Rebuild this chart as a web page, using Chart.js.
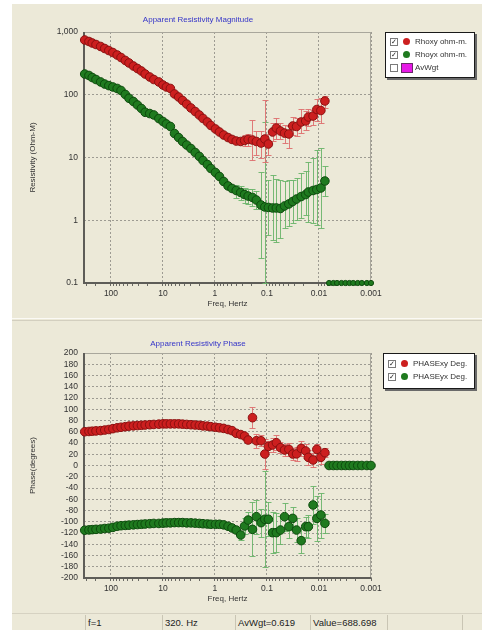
<!DOCTYPE html>
<html lang="en">
<head>
<meta charset="UTF-8">
<title>Apparent Resistivity</title>
<script src="https://cdn.jsdelivr.net/npm/chart.js"></script>
<style>
    body { margin: 0; background: #fff; font-family: "Liberation Sans", Arial, sans-serif; }
    #page { position: relative; width: 482px; height: 630px; overflow: hidden; }
    #panel { position: absolute; left: 12px; top: 4px; width: 470px; height: 626px; background: #ECE9D8; }
    canvas { position: absolute; left: 0; }
    #rhoChart { top: 0; }
    #phaseChart { top: 318px; }
    #split { position: absolute; left: 12px; top: 318px; width: 470px; height: 1px; border-top: 1px solid #fbfaf5; border-bottom: 1px solid #d3cfbf; }
    .legend { position: absolute; background: #fff; border: 1px solid #1a1a1a; box-shadow: 2px 2px 0 #6a6a6a; font-size: 8px; color: #333; }
    .row { position: absolute; left: 4px; width: 84px; height: 10px; white-space: nowrap; }
    .chk { position: absolute; left: 0; top: 0; width: 6px; height: 6px; border: 1px solid #7a7a7a; background: #fff; font: 7px/6px "DejaVu Sans", sans-serif; text-align: center; color: #222; }
    .dot { position: absolute; left: 13px; top: 0; width: 7px; height: 7px; border-radius: 50%; }
    .swatch { position: absolute; left: 11px; top: -1px; width: 10px; height: 8px; background: #e619e6; border: 1px solid #6a2a6a; }
    .txt { position: absolute; left: 25px; top: -1px; }
    #status { position: absolute; left: 12px; top: 613px; width: 470px; height: 17px; border-top: 1px solid #d6d2c2; background: #ECE9D8; font-size: 9.5px; color: #222; }
    #status span { position: absolute; top: 3px; }
    #status i { position: absolute; top: 1px; width: 1px; height: 15px; background: #c9c5b4; }
</style>
</head>
<body>
<div id="page">
    <div id="panel"></div>
    <canvas id="rhoChart" width="482" height="318"></canvas>
    <div id="split"></div>
    <canvas id="phaseChart" width="482" height="295"></canvas>

    <div class="legend" style="left:385px; top:32px; width:88px; height:44px;">
        <div class="row" style="top:5px;"><span class="chk">✓</span><span class="dot" style="background:#cc1f1f;"></span><span class="txt">Rhoxy ohm-m.</span></div>
        <div class="row" style="top:18px;"><span class="chk">✓</span><span class="dot" style="background:#1f7a1f;"></span><span class="txt">Rhoyx ohm-m.</span></div>
        <div class="row" style="top:31px;"><span class="chk"></span><span class="swatch"></span><span class="txt">AvWgt</span></div>
    </div>
    <div class="legend" style="left:383px; top:353px; width:90px; height:34px;">
        <div class="row" style="top:6px;"><span class="chk">✓</span><span class="dot" style="background:#cc1f1f;"></span><span class="txt">PHASExy Deg.</span></div>
        <div class="row" style="top:19px;"><span class="chk">✓</span><span class="dot" style="background:#1f7a1f;"></span><span class="txt">PHASEyx Deg.</span></div>
    </div>

    <div id="status">
        <i style="left:73px;"></i><i style="left:150px;"></i><i style="left:223px;"></i><i style="left:298px;"></i><i style="left:375px;"></i><i style="left:450px;"></i>
        <span style="left:76px;">f=1</span>
        <span style="left:153px;">320. Hz</span>
        <span style="left:226px;">AvWgt=0.619</span>
        <span style="left:301px;">Value=688.698</span>
    </div>
</div>

<script>
// frequencies, Hz
const freqs = [320, 265, 229, 194, 158, 132, 110, 92, 76, 64, 53, 45, 37, 31, 26, 22, 18, 15, 12, 10,
    8.6, 7.2, 6.0, 5.0, 4.2, 3.5, 2.9, 2.4, 2.0, 1.7, 1.4, 1.2, 0.98, 0.82, 0.68, 0.56, 0.47, 0.39, 0.32, 0.27,
    0.23, 0.19, 0.16, 0.13, 0.11, 0.094, 0.078, 0.066, 0.055, 0.046, 0.038, 0.032, 0.027, 0.022, 0.018, 0.016, 0.013, 0.011, 0.0092, 0.0077];
// frequencies without data (drawn at the floor)
const tailFreqs = [0.0064, 0.0053, 0.0045, 0.0037, 0.0031, 0.0026, 0.0022, 0.0018, 0.0015, 0.0012, 0.001];
const tailRho = [0.1, 0.1, 0.1, 0.1, 0.1, 0.1, 0.1, 0.1, 0.1, 0.1, 0.1];
const tailPhase = [0, 0, 0, 0, 0, 0, 0, 0, 0, 0, 0];

const n = null;

// apparent resistivity, ohm-m
const rhoXy = [746, 706, 668, 632, 588, 546, 507, 471, 430, 392, 352, 321, 287, 262, 239, 214, 192, 175, 160, 143,
    133, 126, 103, 92, 81, 71, 61.5, 54, 47.5, 41.9, 36.8, 32.4, 28.5, 25.5, 22.8, 20.8, 19.4, 18.3, 18.0, 18.7,
    19.4, 19.0, 18.0, 17.0, 19.7, 16.4, 25.5, 29.5, 26.4, 24.5, 23.7, 31.8, 31.2, 36.8, 38.2, 44.2, 45.8, 58.2, 56.1, 79.4];
const rhoXyLo = [n, n, n, n, n, n, n, n, n, n, n, n, n, n, n, n, n, n, n, n,
    n, n, n, n, n, n, n, n, n, n, n, n, n, n, n, n, n, n, n, 15,
    15, 9.1, 11, 10, 8.6, 11, 18, 20, 20, 17, 14, 23, 22, 25, 27, 32, 33, 38, 35, 62];
const rhoXyHi = [n, n, n, n, n, n, n, n, n, n, n, n, n, n, n, n, n, n, n, n,
    n, n, n, n, n, n, n, n, n, n, n, n, n, n, n, n, n, n, n, 23,
    24, 40, 26, 26, 82, 24, 36, 42, 35, 33, 32, 44, 42, 60, 55, 60, 58, 85, 90, 95];

const rhoYx = [214, 203, 188, 175, 160, 148, 140, 133, 126, 117, 101, 87.8, 78, 68.7, 60.4, 52.5, 50.2, 47.6, 41.8, 37.5,
    34.2, 31.2, 24.1, 20.8, 18.0, 15.8, 13.9, 12.0, 10.4, 8.96, 7.73, 6.68, 5.77, 4.98, 4.15, 3.52, 3.21, 2.98, 2.77, 2.57,
    2.43, 2.31, 2.10, 1.75, 1.63, 1.60, 1.57, 1.57, 1.54, 1.69, 1.82, 1.99, 2.18, 2.39, 2.57, 2.82, 2.98, 3.09, 3.27, 4.22];
const rhoYxLo = [n, n, n, n, n, n, n, n, n, n, n, n, n, n, n, n, n, n, n, n,
    n, n, n, n, n, n, n, n, n, n, n, n, n, n, n, n, n, 2.3, 2.1, 1.9,
    1.8, 1.7, 1.5, 0.25, 0.1, 0.58, 0.49, 0.45, 0.53, 0.75, 0.8, 0.9, 1.0, 1.1, 1.2, 0.95, 0.9, 0.84, 0.75, 2.4];
const rhoYxHi = [n, n, n, n, n, n, n, n, n, n, n, n, n, n, n, n, n, n, n, n,
    n, n, n, n, n, n, n, n, n, n, n, n, n, n, n, n, n, 3.7, 3.5, 3.3,
    3.2, 3.1, 2.9, 5.9, 37, 4.4, 5.2, 4.6, 4.4, 4.2, 4.4, 4.4, 4.8, 5.6, 6.0, 8.6, 10, 13, 14, 7.2];

// phase, degrees (error = half width)
const phaseXy = [60, 60.5, 61, 61.5, 62, 63, 64, 65.5, 67, 68, 69, 70, 70.5, 71, 71.5, 72, 72.5, 73, 73.5, 74,
    74, 74, 74, 74, 73.5, 73, 72.5, 72, 71.5, 70.5, 70, 69, 68, 67, 66, 64, 62, 57.2, 55, 52.4,
    45.3, 85, 44, 44, 20.4, 34, 36.4, 40.5, 31.7, 27.6, 28.7, 20.4, 20.7, 30.4, 25.8, 14.5, 9.8, 28.7, 14.5, 22.8];
const phaseXyErr = [n, n, n, n, n, n, n, n, n, n, n, n, n, n, n, n, n, n, n, n,
    n, n, n, n, n, n, n, n, n, n, n, n, n, n, n, n, n, 4, 4, 5,
    6, 19, 12, 10, 27, 10, 12, 13, 10, 11, 12, 10, 12, 14, 13, 13, 13, 10, 12, 8];

const phaseYx = [-115, -114.5, -114, -113.5, -113, -112, -111.5, -110, -108, -107, -106.5, -106, -105.5, -105, -104.5, -104, -103.5, -103, -103, -102.5,
    -102, -102, -101.5, -101.5, -101.5, -102, -102, -102.5, -103, -103.5, -104, -104.5, -104.5, -104.5, -105.5, -108, -111, -114.7, -123.6, -107.6,
    -97, -113.5, -91, -101.6, -95.6, -95.6, -119.4, -119.4, -114.7, -91, -108.7, -94, -114.7, -133.6, -108.7, -108.7, -70.2, -94, -88, -102.8];
const phaseYxErr = [n, n, n, n, n, n, n, n, n, n, n, n, n, n, n, n, n, n, n, n,
    n, n, n, n, n, n, n, n, n, n, n, n, n, n, n, n, 4, 6, 8, 14,
    15, 48, 30, 25, 85, 30, 37, 35, 25, 25, 20, 20, 22, 22, 18, 20, 33, 40, 40, 17];

// axis ticks
const freqTicks = [100, 10, 1, 0.1, 0.01, 0.001];
const freqTickLabels = ['100', '10', '1', '0.1', '0.01', '0.001'];
const freqMinorSteps = [2, 3, 4, 5, 6, 7, 8, 9];
const rhoTicks = [0.1, 1, 10, 100, 1000];
const rhoTickLabels = ['0.1', '1', '10', '100', '1,000'];
const phaseTicks = [200, 180, 160, 140, 120, 100, 80, 60, 40, 20, 0, -20, -40, -60, -80, -100, -120, -140, -160, -180, -200];

const FONT = '"Liberation Sans", Arial, sans-serif';
const GRID = '#9d9b92';
const RED = '#cc1f1f', RED_EDGE = '#8a1010', RED_BAR = 'rgba(222,110,110,0.9)';
const GREEN = '#1f7a1f', GREEN_EDGE = '#0c4a0c', GREEN_BAR = 'rgba(105,180,105,0.9)';

function points(xs, ys) {
    return xs.map((x, i) => ({ x: x, y: ys[i] }));
}

// frame, minor ticks, error bars and chart title
const decor = {
    id: 'decor',
    beforeDatasetsDraw(chart) {
        const ctx = chart.ctx, a = chart.chartArea;
        const xs = chart.scales.x, ys = chart.scales.y;
        ctx.save();
        ctx.strokeStyle = '#a9a79c';
        ctx.lineWidth = 1;
        ctx.strokeRect(a.left + 0.5, a.top + 0.5, a.width - 1, a.height - 1);

        // small ticks under the frequency axis
        ctx.strokeStyle = '#6a6964';
        ctx.beginPath();
        [1000, 100, 10, 1, 0.1, 0.01].forEach(dec => {
            freqMinorSteps.forEach(m => {
                const v = dec * m / 10;
                if (v > xs.max || v < xs.min) return;
                const x = Math.round(xs.getPixelForValue(v)) + 0.5;
                ctx.moveTo(x, a.bottom);
                ctx.lineTo(x, a.bottom + 3);
            });
        });
        ctx.stroke();

        ctx.strokeStyle = '#5e5d58';
        ctx.lineWidth = 2;
        ctx.beginPath();
        ctx.moveTo(a.left, a.top);
        ctx.lineTo(a.left, a.bottom);
        ctx.lineTo(a.right, a.bottom);
        ctx.stroke();

        ctx.beginPath();
        ctx.rect(a.left, a.top, a.width, a.height + 1);
        ctx.clip();
        ctx.lineWidth = 1;
        chart.data.datasets.forEach(ds => {
            if (!ds.errLo) return;
            ctx.strokeStyle = ds.errColor;
            ds.data.forEach((p, i) => {
                if (ds.errLo[i] == null) return;
                const x = Math.round(xs.getPixelForValue(p.x)) + 0.5;
                const y1 = Math.round(ys.getPixelForValue(ds.errLo[i])) + 0.5;
                const y2 = Math.round(ys.getPixelForValue(ds.errHi[i])) + 0.5;
                ctx.beginPath();
                ctx.moveTo(x, y1); ctx.lineTo(x, y2);
                ctx.moveTo(x - 3, y1); ctx.lineTo(x + 3, y1);
                ctx.moveTo(x - 3, y2); ctx.lineTo(x + 3, y2);
                ctx.stroke();
            });
        });
        ctx.restore();
    },
    afterDraw(chart, args, opts) {
        const ctx = chart.ctx;
        ctx.save();
        ctx.fillStyle = '#3535c8';
        ctx.font = '8px ' + FONT;
        ctx.textAlign = 'center';
        ctx.textBaseline = 'middle';
        ctx.fillText(opts.text, opts.x, opts.y);
        ctx.restore();
    }
};

function freqAxis() {
    return {
        type: 'logarithmic',
        reverse: true,
        min: 0.001,
        max: 330,
        afterFit(scale) { scale.height = 35; },
        afterBuildTicks(scale) { scale.ticks = freqTicks.map(v => ({ value: v })); },
        border: { display: false, dash: [2, 2] },
        grid: { color: GRID, tickLength: 3, drawTicks: true, tickBorderDash: [] , tickColor: '#6a6964' },
        ticks: {
            padding: 3, color: '#333', font: { size: 8.5, family: FONT },
            autoSkip: false, maxRotation: 0,
            callback: v => freqTickLabels[freqTicks.indexOf(v)]
        },
        title: { display: true, text: 'Freq, Hertz', color: '#333', font: { size: 8, family: FONT }, padding: { top: 0, bottom: 9 } }
    };
}

function baseOptions(titleText, yAxis) {
    return {
        responsive: false,
        animation: false,
        devicePixelRatio: 1,
        events: [],
        layout: { padding: { left: 20, right: 111, top: 32, bottom: 0 } },
        scales: { x: freqAxis(), y: yAxis },
        plugins: {
            legend: { display: false },
            tooltip: { enabled: false },
            decor: { text: titleText, x: 198, y: 20 }
        }
    };
}

function series(xs, ys, fill, edge, r, extra) {
    return Object.assign({
        data: points(xs, ys),
        showLine: false,
        pointRadius: r,
        pointBackgroundColor: fill,
        pointBorderColor: edge,
        pointBorderWidth: 1,
        clip: false
    }, extra || {});
}

// resistivity
new Chart(document.getElementById('rhoChart'), {
    type: 'scatter',
    data: {
        datasets: [
            series(tailFreqs, tailRho, GREEN, GREEN_EDGE, 2.6),
            series(freqs, rhoYx, GREEN, GREEN_EDGE, 4.3, { errLo: rhoYxLo, errHi: rhoYxHi, errColor: GREEN_BAR }),
            series(freqs, rhoXy, RED, RED_EDGE, 4.3, { errLo: rhoXyLo, errHi: rhoXyHi, errColor: RED_BAR })
        ]
    },
    options: baseOptions('Apparent Resistivity Magnitude', {
        type: 'logarithmic',
        min: 0.1,
        max: 1000,
        afterFit(scale) { scale.width = 64; },
        afterBuildTicks(scale) { scale.ticks = rhoTicks.map(v => ({ value: v })); },
        border: { display: false, dash: [2, 2] },
        grid: { color: GRID, drawTicks: false },
        ticks: {
            padding: 6, color: '#333', font: { size: 8.5, family: FONT },
            callback: v => rhoTickLabels[rhoTicks.indexOf(v)]
        },
        title: { display: true, text: 'Resistivity (Ohm-M)', color: '#333', font: { size: 8, family: FONT }, padding: { top: 8, bottom: 0 } }
    }),
    plugins: [decor]
});

// phase
const phaseYxLo = phaseYx.map((v, i) => phaseYxErr[i] == null ? null : v - phaseYxErr[i]);
const phaseYxHi = phaseYx.map((v, i) => phaseYxErr[i] == null ? null : v + phaseYxErr[i]);
const phaseXyLo = phaseXy.map((v, i) => phaseXyErr[i] == null ? null : v - phaseXyErr[i]);
const phaseXyHi = phaseXy.map((v, i) => phaseXyErr[i] == null ? null : v + phaseXyErr[i]);

const phaseOpts = baseOptions('Apparent Resistivity Phase', {
    type: 'linear',
    min: -200,
    max: 200,
    afterFit(scale) { scale.width = 64; },
    afterBuildTicks(scale) { scale.ticks = phaseTicks.map(v => ({ value: v })); },
    border: { display: false, dash: [2, 2] },
    grid: { color: GRID, drawTicks: false },
    ticks: { padding: 6, color: '#333', font: { size: 8.5, family: FONT }, autoSkip: false },
    title: { display: true, text: 'Phase(degrees)', color: '#333', font: { size: 8, family: FONT }, padding: { top: 8, bottom: 0 } }
});
phaseOpts.layout.padding.top = 35;
phaseOpts.plugins.decor.y = 26;

new Chart(document.getElementById('phaseChart'), {
    type: 'scatter',
    data: {
        datasets: [
            series(tailFreqs, tailPhase, GREEN, GREEN_EDGE, 4.3),
            series(freqs, phaseYx, GREEN, GREEN_EDGE, 4.3, { errLo: phaseYxLo, errHi: phaseYxHi, errColor: GREEN_BAR }),
            series(freqs, phaseXy, RED, RED_EDGE, 4.3, { errLo: phaseXyLo, errHi: phaseXyHi, errColor: RED_BAR })
        ]
    },
    options: phaseOpts,
    plugins: [decor]
});
</script>
</body>
</html>
